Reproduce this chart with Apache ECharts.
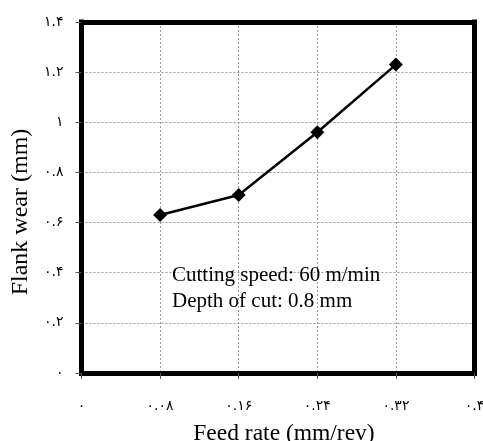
<!DOCTYPE html>
<html>
<head>
<meta charset="utf-8">
<script src="https://cdn.jsdelivr.net/npm/echarts@6/dist/echarts.min.js"></script>
<style>
html,body{margin:0;padding:0;background:#fff;}
#chart{width:483px;height:441px;}
</style>
</head>
<body>
<div id="chart"></div>
<script>
// data
var feedRate=[0.08,0.16,0.24,0.32];
var flankWear=[0.63,0.71,0.96,1.23];
var xTickText={'0':'۰','0.08':'۰.۰۸','0.16':'۰.۱۶','0.24':'۰.۲۴','0.32':'۰.۳۲','0.4':'۰.۴'};
var yTickText={'0':'۰','0.2':'۰.۲','0.4':'۰.۴','0.6':'۰.۶','0.8':'۰.۸','1':'۱','1.2':'۱.۲','1.4':'۱.۴'};
var noteLines=['Cutting speed: 60 m/min','Depth of cut: 0.8 mm'];

var serif='"Liberation Serif","Times New Roman",serif';
var digitFont='"DejaVu Sans",sans-serif';
var points=[];
for(var i=0;i<feedRate.length;i++){points.push([feedRate[i],flankWear[i]]);}

function fmt(map){
    return function(v){
        var k=String(Math.round(v*100)/100);
        return map[k]!==undefined?map[k]:k;
    };
}

var frame={show:true,onZero:false,lineStyle:{color:'#000',width:5,cap:'square'}};
var grid={type:[2,2],color:'#999',width:1};

var myChart=echarts.init(document.getElementById('chart'));
var option={
    animation:false,
    backgroundColor:'#fff',
    grid:{left:81.5,top:22,right:8.5,bottom:68,outerBoundsMode:'none',containLabel:false},
    xAxis:[{
        type:'value',min:0,max:0.4,interval:0.08,
        name:'Feed rate (mm/rev)',nameLocation:'middle',nameGap:49,
        nameTextStyle:{fontFamily:serif,fontSize:23.5,color:'#000',padding:[0,0,0,12]},
        axisLine:frame,
        axisTick:{show:true,length:6,lineStyle:{color:'#555'}},
        axisLabel:{formatter:fmt(xTickText),margin:26,fontFamily:digitFont,fontSize:14,color:'#000'},
        splitLine:{show:true,lineStyle:grid}
    },{
        type:'value',position:'top',min:0,max:0.4,interval:0.08,
        axisLine:frame,axisTick:{show:false},axisLabel:{show:false},splitLine:{show:false}
    }],
    yAxis:[{
        type:'value',min:0,max:1.4,interval:0.2,
        name:'Flank wear (mm)',nameLocation:'middle',nameGap:48,
        nameTextStyle:{fontFamily:serif,fontSize:24,color:'#000',padding:[0,29,0,0]},
        axisLine:frame,
        axisTick:{show:true,length:6,lineStyle:{color:'#555'}},
        axisLabel:{formatter:fmt(yTickText),margin:18,fontFamily:digitFont,fontSize:14,color:'#000'},
        splitLine:{show:true,lineStyle:grid}
    },{
        type:'value',position:'right',min:0,max:1.4,interval:0.2,
        axisLine:frame,axisTick:{show:false},axisLabel:{show:false},splitLine:{show:false}
    }],
    graphic:[{
        type:'text',left:172,top:262,z:10,
        style:{text:noteLines.join('\n'),font:'21px '+serif,fill:'#000',lineHeight:26}
    }],
    series:[{
        type:'line',data:points,
        symbol:'diamond',symbolSize:14,
        lineStyle:{color:'#000',width:2.5},
        itemStyle:{color:'#000'}
    }]
};
myChart.setOption(option);
</script>
</body>
</html>
